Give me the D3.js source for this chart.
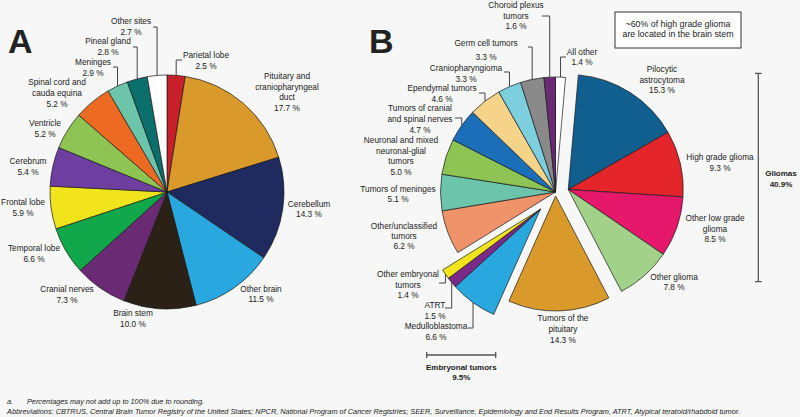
<!DOCTYPE html>
<html><head><meta charset="utf-8">
<script src="https://cdn.jsdelivr.net/npm/d3@7"></script>
<style>
body{margin:0;background:#f7f7f7}
svg{display:block}
text{font-family:"Liberation Sans",Arial,Helvetica,sans-serif;fill:#222}
</style>
</head><body>
<svg id="c" width="800" height="417"></svg>
<script>
// ---------- DATA ----------
const categoriesA = ["Parietal lobe","Pituitary and\ncraniopharyngeal\nduct","Cerebellum","Other brain","Brain stem","Cranial nerves","Temporal lobe","Frontal lobe","Cerebrum","Ventricle","Spinal cord and\ncauda equina","Meninges","Pineal gland","Other sites"];
const valuesA = [2.5,17.7,14.3,11.5,10.0,7.3,6.6,5.9,5.4,5.2,5.2,2.9,2.8,2.7];

const categoriesB = ["All other","Pilocytic\nastrocytoma","High grade glioma","Other low grade\nglioma","Other glioma","Tumors of the\npituitary","Medulloblastoma","ATRT","Other embryonal\ntumors","Other/unclassified\ntumors","Tumors of meninges","Neuronal and mixed\nneuronal-glial\ntumors","Tumors of cranial\nand spinal nerves","Ependymal tumors","Craniopharyngioma","Germ cell tumors","Choroid plexus\ntumors"];
const valuesB = [1.4,15.3,9.3,8.5,7.8,14.3,6.6,1.5,1.4,6.2,5.1,5.0,4.7,4.6,3.3,3.3,1.6];
const groupsB = ["base","glioma","glioma","glioma","glioma","pituitary","embryonal","embryonal","embryonal","base","base","base","base","base","base","base","base"];

const groupTotals = [{name:"Gliomas", value:"40.9%"},{name:"Embryonal tumors", value:"9.5%"}];
const noteLines = ["~60%  of high grade glioma","are located in the brain stem"];
const footnotes = ["Percentages may not add up to 100% due to rounding.","Abbreviations: CBTRUS, Central Brain Tumor Registry of the United States; NPCR, National Program of Cancer Registries; SEER, Surveillance, Epidemiology and End Results Program, ATRT, Atypical teratoid/rhabdoid tumor."];

// ---------- STYLE / LAYOUT ----------
const colorsA = ["#c8202a","#d99a2b","#1f2a5e","#29a7df","#2b2116","#6b2a74","#10a84a","#f2e41c","#6e3fa0","#8dc454","#ee6a22","#6cc4aa","#0b6f6b","#ffffff"];
const colorsB = ["#ffffff","#105f8e","#e4262b","#e6186b","#a2d18a","#d99a2b","#29a7df","#7b2a8a","#f2e41c","#f0936b","#6cc4aa","#8dc454","#1b6fb8","#f5d48a","#7dcfe0","#8a8a8a","#6b2a74"];
const explodeB = {base:0, glioma:13, pituitary:4, embryonal:23};

// label layout: [x, y of first line, line gap, connector start [x0,y] or null]
const labelPosA = [
  [206,55,10.7,[182,60]],[287,76,10.7,null],[309,204,10.5,null],[261,289,10.5,null],[133,313,10.7,null],
  [67,289,10.7,null],[34,248,10.7,null],[23,202,11,null],[28,161,10.7,null],[45,123,10.7,null],
  [57,82,10.8,null],[93,62,10.7,[113,67]],[108,41,10.7,[133,47]],[131,21,10.7,[153,27]]
];
const labelPosB = [
  [582,52,10.5,[566,57]],[662,69,10.7,null],[720,157,10.6,null],[715,218,10.6,null],[674,277,10.5,null],
  [563,318,10.8,null],[436,326,10.8,[468,328]],[435,305,10.8,[445,308]],[408,274,10.6,[439,283]],
  [404,226,10.2,null],[398,189,10.5,null],[401,140,10.6,null],[420,108,10.8,[455,118]],
  [442,88,10.7,[479,93]],[466,68,10.7,[504,72]],[486,43,14.4,[528,47]],[516,5,10.6,[542,16]]
];

const svg = d3.select("#c");
svg.append("rect").attr("width",800).attr("height",417).attr("fill","#f7f7f7");

function drawPie(cx, cy, r, values, cats, colors, groups, explode, labelPos){
  const pie = d3.pie().sort(null).value(d=>d).startAngle(0).endAngle(2*Math.PI);
  const arcs = pie(values);
  const arc = d3.arc().innerRadius(0).outerRadius(r);
  // group mid angles
  const gMid = {};
  if(groups){
    const gs = {};
    arcs.forEach((a,i)=>{const g=groups[i]; if(!gs[g]) gs[g]=[a.startAngle,a.endAngle]; else gs[g][1]=a.endAngle;});
    for(const g in gs) gMid[g]=(gs[g][0]+gs[g][1])/2;
  }
  const off = arcs.map((a,i)=>{
    if(!groups) return [0,0];
    const g=groups[i], d=explode[g]||0, m=gMid[g];
    return [d*Math.sin(m), -d*Math.cos(m)];
  });
  const g = svg.append("g").attr("transform",`translate(${cx},${cy})`);
  g.selectAll("path").data(arcs).join("path")
    .attr("d",arc)
    .attr("transform",(d,i)=>`translate(${off[i][0]},${off[i][1]})`)
    .attr("fill",(d,i)=>colors[i])
    .attr("stroke","#1a1a1a").attr("stroke-width",0.7).attr("stroke-linejoin","round");
  // labels
  arcs.forEach((a,i)=>{
    const [lx,ly,gap,conn] = labelPos[i];
    const lines = cats[i].split("\n").concat([values[i].toFixed(1)+" %"]);
    const t = svg.append("text").attr("text-anchor","middle").attr("font-size",8.3);
    lines.forEach((ln,k)=>{
      t.append("tspan").attr("x",lx).attr("y",ly+k*gap).attr("dy","0.35em").text(ln);
    });
    if(conn){
      const m=(a.startAngle+a.endAngle)/2;
      const px = cx+off[i][0]+r*Math.sin(m), py = cy+off[i][1]-r*Math.cos(m);
      svg.append("path").attr("d",`M${conn[0]},${conn[1]}H${px}V${py}`)
        .attr("fill","none").attr("stroke","#444").attr("stroke-width",1);
    }
  });
}

drawPie(167,192,117,valuesA,categoriesA,colorsA,null,null,labelPosA);
drawPie(555.5,192,115,valuesB,categoriesB,colorsB,groupsB,explodeB,labelPosB);

// panel letters
svg.append("text").attr("x",8).attr("y",53).attr("font-size",34).attr("font-weight","bold").attr("fill","#111").text("A");
svg.append("text").attr("x",369).attr("y",53).attr("font-size",34).attr("font-weight","bold").attr("fill","#111").text("B");

// note box
svg.append("rect").attr("x",615).attr("y",12).attr("width",126).attr("height",36).attr("fill","#fff").attr("stroke","#333").attr("stroke-width",1);
noteLines.forEach((ln,k)=>svg.append("text").attr("x",678).attr("y",23.5+k*10.3).attr("dy","0.35em").attr("text-anchor","middle").attr("font-size",8.8).text(ln));

// gliomas bracket
const br = svg.append("g").attr("stroke","#555").attr("stroke-width",1.3).attr("fill","none");
br.append("path").attr("d","M758.3,73.3V281.7M755,73.3H761.6M755,281.7H761.6");
svg.append("text").attr("x",781).attr("y",173.3).attr("dy","0.35em").attr("text-anchor","middle").attr("font-size",8).attr("font-weight","bold").text(groupTotals[0].name);
svg.append("text").attr("x",781).attr("y",184).attr("dy","0.35em").attr("text-anchor","middle").attr("font-size",8).attr("font-weight","bold").text(groupTotals[0].value);
// embryonal bracket
br.append("path").attr("d","M426.7,355H495.7M426.7,352V358M495.7,352V358");
svg.append("text").attr("x",461.3).attr("y",366.7).attr("dy","0.35em").attr("text-anchor","middle").attr("font-size",8).attr("font-weight","bold").text(groupTotals[1].name);
svg.append("text").attr("x",461.3).attr("y",376.7).attr("dy","0.35em").attr("text-anchor","middle").attr("font-size",8).attr("font-weight","bold").text(groupTotals[1].value);

// footnotes
svg.append("text").attr("x",7).attr("y",401).attr("dy","0.35em").attr("font-size",7.4).attr("font-style","italic").text("a.");
svg.append("text").attr("x",27).attr("y",401).attr("dy","0.35em").attr("font-size",7.4).attr("font-style","italic").attr("textLength",177).attr("lengthAdjust","spacingAndGlyphs").text(footnotes[0]);
svg.append("text").attr("x",7).attr("y",411.5).attr("dy","0.35em").attr("font-size",7.4).attr("font-style","italic").attr("textLength",733).attr("lengthAdjust","spacingAndGlyphs").text(footnotes[1]);
</script>
</body></html>
